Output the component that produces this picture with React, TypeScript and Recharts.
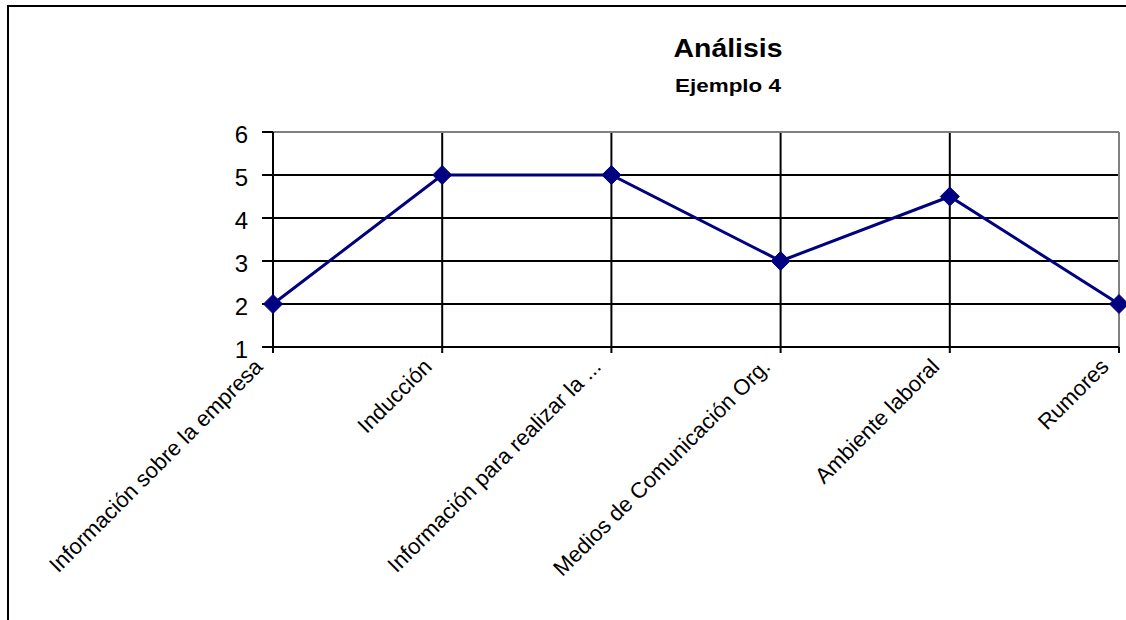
import React from 'react';
import {
  LineChart,
  Line,
  XAxis,
  YAxis,
  CartesianGrid,
  ReferenceLine,
} from 'recharts';

const categories = [
  'Información sobre la empresa',
  'Inducción',
  'Información para realizar la ...',
  'Medios de Comunicación Org.',
  'Ambiente laboral',
  'Rumores',
];
const scores = [2, 5, 5, 3, 4.5, 2];
const yTicks = [1, 2, 3, 4, 5, 6];

const chartTitle = 'Análisis';
const chartSubtitle = 'Ejemplo 4';

const data = categories.map((name, i) => ({ name, value: scores[i] }));

const FONT = '"Liberation Sans", Arial, sans-serif';
const NAVY = '#000080';

const YTick = (props: any) => {
  const { x, y, payload } = props;
  return (
    <text x={x} y={y} dy={11} textAnchor="end" fontSize={24} fontFamily={FONT} fill="#000">
      {payload.value}
    </text>
  );
};

// category names run up to the tick at 45 degrees
const XTick = (props: any) => {
  const { x, y, payload } = props;
  const ax = x - 9;
  const ay = y + 15;
  return (
    <text
      x={ax}
      y={ay}
      textAnchor="end"
      fontSize={22}
      fontFamily={FONT}
      fill="#000"
      transform={`rotate(-45, ${ax}, ${ay})`}
    >
      {payload.value}
    </text>
  );
};

const Diamond = (props: any) => {
  const { cx, cy } = props;
  if (cx == null || cy == null) return null;
  const r = 9.5;
  return (
    <polygon
      points={`${cx},${cy - r} ${cx + r},${cy} ${cx},${cy + r} ${cx - r},${cy}`}
      fill={NAVY}
      stroke={NAVY}
      strokeWidth={1}
    />
  );
};

export default function App() {
  return (
    <div style={{ position: 'absolute', left: 0, top: 0, width: 1126, height: 620, overflow: 'hidden', background: '#fff' }}>
      <LineChart
        width={1126}
        height={620}
        data={data}
        margin={{ top: 132, right: 7, left: 213, bottom: 243 }}
      >
        <CartesianGrid stroke="#000" strokeWidth={2} />
        <ReferenceLine y={6} stroke="#808080" strokeWidth={2} />
        <ReferenceLine x={categories[categories.length - 1]} stroke="#808080" strokeWidth={2} />
        <XAxis
          dataKey="name"
          height={30}
          interval={0}
          axisLine={{ stroke: '#000', strokeWidth: 2 }}
          tickLine={{ stroke: '#000', strokeWidth: 2 }}
          tickSize={6}
          tickMargin={0}
          tick={<XTick />}
        />
        <YAxis
          type="number"
          domain={[1, 6]}
          ticks={yTicks}
          width={60}
          axisLine={{ stroke: '#000', strokeWidth: 2 }}
          tickLine={{ stroke: '#000', strokeWidth: 2 }}
          tickSize={11}
          tickMargin={14}
          tick={<YTick />}
        />
        <Line
          type="linear"
          dataKey="value"
          stroke={NAVY}
          strokeWidth={3}
          dot={<Diamond />}
          activeDot={false}
          isAnimationActive={false}
        />
      </LineChart>
      <svg
        width={1126}
        height={620}
        style={{ position: 'absolute', left: 0, top: 0, pointerEvents: 'none' }}
      >
        <rect x={8} y={6} width={1300} height={800} fill="none" stroke="#000" strokeWidth={2} />
        <text
          x={728}
          y={57}
          textAnchor="middle"
          fontSize={25}
          fontWeight="bold"
          fontFamily={FONT}
          textLength={109}
          lengthAdjust="spacingAndGlyphs"
        >
          {chartTitle}
        </text>
        <text
          x={728}
          y={92}
          textAnchor="middle"
          fontSize={19}
          fontWeight="bold"
          fontFamily={FONT}
          textLength={106}
          lengthAdjust="spacingAndGlyphs"
        >
          {chartSubtitle}
        </text>
      </svg>
    </div>
  );
}
